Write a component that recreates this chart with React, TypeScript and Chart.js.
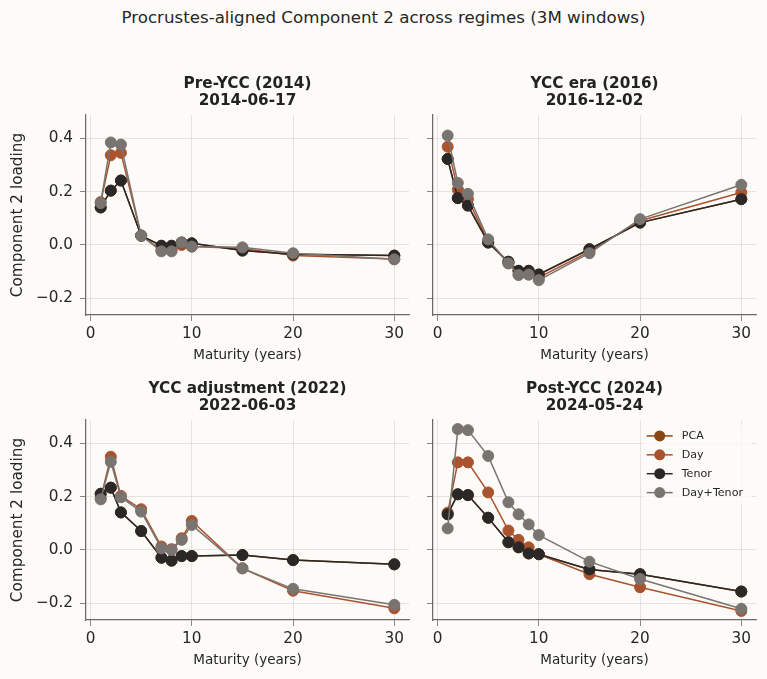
import React, { useEffect, useRef } from "react";
import { Chart, registerables } from "chart.js";

Chart.register(...registerables);

// ---------------- DATA ----------------
const MATURITIES = [1, 2, 3, 5, 7, 8, 9, 10, 15, 20, 30];
const X_TICKS = [0, 10, 20, 30];
const Y_TICKS = [-0.2, 0, 0.2, 0.4];
const SERIES_NAMES = ["PCA", "Day", "Tenor", "Day+Tenor"];

const SUPTITLE = "Procrustes-aligned Component 2 across regimes (3M windows)";
const X_LABEL = "Maturity (years)";
const Y_LABEL = "Component 2 loading";

const PRE_TITLE = ["Pre-YCC (2014)", "2014-06-17"];
const PRE_PCA = [0.141, 0.204, 0.242, 0.035, -0.003, -0.003, 0.009, 0.006, -0.021, -0.035, -0.04];
const PRE_DAY = [0.161, 0.337, 0.346, 0.035, -0.019, -0.019, 0.0, -0.006, -0.013, -0.04, -0.053];
const PRE_TENOR = [0.141, 0.204, 0.242, 0.035, -0.003, -0.003, 0.009, 0.006, -0.021, -0.035, -0.04];
const PRE_DAYTENOR = [0.157, 0.385, 0.377, 0.035, -0.024, -0.024, 0.009, -0.006, -0.009, -0.031, -0.054];

const YCC_TITLE = ["YCC era (2016)", "2016-12-02"];
const YCC_PCA = [0.323, 0.176, 0.148, 0.009, -0.063, -0.097, -0.097, -0.111, -0.016, 0.084, 0.172];
const YCC_DAY = [0.369, 0.208, 0.172, 0.013, -0.069, -0.111, -0.111, -0.122, -0.025, 0.091, 0.197];
const YCC_TENOR = [0.323, 0.176, 0.148, 0.009, -0.063, -0.097, -0.097, -0.111, -0.016, 0.084, 0.172];
const YCC_DAYTENOR = [0.411, 0.233, 0.192, 0.021, -0.069, -0.113, -0.111, -0.132, -0.031, 0.097, 0.226];

const ADJ_TITLE = ["YCC adjustment (2022)", "2022-06-03"];
const ADJ_PCA = [0.211, 0.234, 0.141, 0.071, -0.029, -0.04, -0.023, -0.023, -0.019, -0.038, -0.054];
const ADJ_DAY = [0.194, 0.35, 0.203, 0.153, 0.013, 0.003, 0.044, 0.109, -0.069, -0.153, -0.219];
const ADJ_TENOR = [0.211, 0.234, 0.141, 0.071, -0.029, -0.04, -0.023, -0.023, -0.019, -0.038, -0.054];
const ADJ_DAYTENOR = [0.19, 0.331, 0.198, 0.144, 0.006, 0.0, 0.038, 0.094, -0.069, -0.146, -0.206];

const POST_TITLE = ["Post-YCC (2024)", "2024-05-24"];
const POST_PCA = [0.134, 0.209, 0.206, 0.121, 0.029, 0.01, -0.013, -0.016, -0.073, -0.091, -0.156];
const POST_DAY = [0.14, 0.329, 0.329, 0.216, 0.073, 0.038, 0.01, -0.016, -0.091, -0.14, -0.229];
const POST_TENOR = [0.134, 0.209, 0.206, 0.121, 0.029, 0.01, -0.013, -0.016, -0.073, -0.091, -0.156];
const POST_DAYTENOR = [0.081, 0.454, 0.45, 0.353, 0.179, 0.134, 0.096, 0.056, -0.044, -0.109, -0.221];

// ---------------- STYLE ----------------
const FONT = "'DejaVu Sans', sans-serif";
const BG = "#fcfbf8";
const TEXT = "#262626";
const GRID = "#e0ddd8";
const SPINE = "#6b6a68";
const COLORS = ["#8b4513", "#a9532f", "#2a2827", "#7a7471"];
const X_MIN = -0.45;
const X_MAX = 31.45;
const Y_MIN = -0.263;
const Y_MAX = 0.488;

const fmtY = (v: number) => {
  const s = Math.abs(v).toFixed(1);
  return v < -1e-9 ? "\u2212" + s : s;
};

const innerLegend = {
  id: "innerLegend",
  afterDatasetsDraw(chart: any, _args: any, opts: any) {
    if (!opts || !opts.show) return;
    const { ctx, chartArea } = chart;
    const right = chartArea.right;
    const top = chartArea.top;
    ctx.save();
    ctx.fillStyle = "rgba(252,251,248,0.8)";
    ctx.beginPath();
    const bx = right - 113;
    const by = top + 5;
    const bw = 109;
    const bh = 79;
    (ctx as any).roundRect ? (ctx as any).roundRect(bx, by, bw, bh, 3) : ctx.rect(bx, by, bw, bh);
    ctx.fill();
    SERIES_NAMES.forEach((name, i) => {
      const y = top + 15.9 + i * 18.9;
      ctx.strokeStyle = COLORS[i];
      ctx.lineWidth = 1.5;
      ctx.beginPath();
      ctx.moveTo(right - 109.3, y);
      ctx.lineTo(right - 83.3, y);
      ctx.stroke();
      ctx.fillStyle = COLORS[i];
      ctx.beginPath();
      ctx.arc(right - 96.3, y, 5.5, 0, Math.PI * 2);
      ctx.fill();
      ctx.fillStyle = TEXT;
      ctx.font = `11.1px ${FONT}`;
      ctx.textAlign = "left";
      ctx.textBaseline = "middle";
      ctx.fillText(name, right - 74.3, y);
    });
    ctx.restore();
  },
};

type PanelProps = {
  left: number;
  top: number;
  width: number;
  height: number;
  axisWidth: number;
  title: string[];
  series: number[][];
  showYLabels: boolean;
  showLegend: boolean;
};

function Panel(p: PanelProps) {
  const ref = useRef<HTMLCanvasElement | null>(null);
  useEffect(() => {
    if (!ref.current) return;
    const chart = new Chart(ref.current, {
      type: "line",
      data: {
        datasets: p.series.map((vals, i) => ({
          label: SERIES_NAMES[i],
          data: MATURITIES.map((m, j) => ({ x: m, y: vals[j] })),
          borderColor: COLORS[i],
          backgroundColor: COLORS[i],
          pointBackgroundColor: COLORS[i],
          pointBorderColor: COLORS[i],
          pointRadius: 5.5,
          pointBorderWidth: 1,
          borderWidth: 1.5,
          tension: 0,
          order: 4 - i,
          clip: false as any,
          yAxisID: "y",
        })),
      },
      options: {
        animation: false,
        responsive: false,
        events: [],
        layout: { padding: 0 },
        plugins: {
          legend: { display: false },
          tooltip: { enabled: false },
          title: {
            display: true,
            text: p.title,
            color: "#222222",
            font: { family: FONT, size: 15.28, weight: "bold", lineHeight: 1.1 },
            padding: { top: 15.5, bottom: 5.9 },
          },
          innerLegend: { show: p.showLegend },
        } as any,
        scales: {
          x: {
            type: "linear",
            min: X_MIN,
            max: X_MAX,
            afterBuildTicks: (s: any) => {
              s.ticks = X_TICKS.map((v) => ({ value: v }));
            },
            afterFit: (s: any) => {
              s.height = 55;
            },
            grid: { color: GRID, lineWidth: 0.8, tickColor: SPINE, tickLength: 6, drawTicks: true },
            border: { display: true, color: SPINE, width: 1.25 },
            ticks: {
              color: TEXT,
              font: { family: FONT, size: 15.28 },
              padding: 3.5,
              maxRotation: 0,
              autoSkip: false,
            },
            title: {
              display: true,
              text: X_LABEL,
              color: TEXT,
              font: { family: FONT, size: 13.5, lineHeight: 1.2 },
              padding: { top: 0, bottom: 6.9 },
            },
          },
          y: {
            type: "linear",
            position: "left",
            min: Y_MIN,
            max: Y_MAX,
            afterBuildTicks: (s: any) => {
              s.ticks = Y_TICKS.map((v) => ({ value: v }));
            },
            afterFit: (s: any) => {
              s.width = p.axisWidth;
            },
            grid: { color: GRID, lineWidth: 0.8, tickColor: SPINE, tickLength: 6, drawTicks: true },
            border: { display: true, color: SPINE, width: 1.25 },
            ticks: {
              display: p.showYLabels,
              color: TEXT,
              font: { family: FONT, size: 15.28 },
              padding: 7,
              callback: (v: any) => fmtY(Number(v)),
            },
            title: {
              display: p.showYLabels,
              text: Y_LABEL,
              color: TEXT,
              font: { family: FONT, size: 15.28, lineHeight: 1.2 },
              padding: { top: 9, bottom: 0 },
            },
          },
          // empty right-hand spacer so the title centres over the plot area
          spacer: {
            type: "linear",
            position: "right",
            display: true,
            min: Y_MIN,
            max: Y_MAX,
            afterFit: (s: any) => {
              s.width = p.axisWidth;
            },
            grid: { display: false, drawTicks: false },
            border: { display: false },
            ticks: { display: false },
            title: { display: false },
          },
        },
      } as any,
      plugins: [innerLegend as any],
    });
    return () => chart.destroy();
  }, []);
  return (
    <canvas
      ref={ref}
      width={p.width}
      height={p.height}
      style={{ position: "absolute", left: p.left, top: p.top, width: p.width, height: p.height }}
    />
  );
}

export default function App() {
  return (
    <div
      style={{
        position: "fixed",
        left: 0,
        top: 0,
        width: 767,
        height: 679,
        background: BG,
        overflow: "hidden",
      }}
    >
      <div
        style={{
          position: "absolute",
          left: 0,
          top: 8,
          width: 767,
          textAlign: "center",
          fontFamily: FONT,
          fontSize: "16.67px",
          lineHeight: "20px",
          color: TEXT,
        }}
      >
        {SUPTITLE}
      </div>
      <Panel
        left={0}
        top={60}
        width={495}
        height={310}
        axisWidth={86}
        title={PRE_TITLE}
        series={[PRE_PCA, PRE_DAY, PRE_TENOR, PRE_DAYTENOR]}
        showYLabels={true}
        showLegend={false}
      />
      <Panel
        left={422}
        top={60}
        width={345}
        height={310}
        axisWidth={11}
        title={YCC_TITLE}
        series={[YCC_PCA, YCC_DAY, YCC_TENOR, YCC_DAYTENOR]}
        showYLabels={false}
        showLegend={false}
      />
      <Panel
        left={0}
        top={365}
        width={495}
        height={310}
        axisWidth={86}
        title={ADJ_TITLE}
        series={[ADJ_PCA, ADJ_DAY, ADJ_TENOR, ADJ_DAYTENOR]}
        showYLabels={true}
        showLegend={false}
      />
      <Panel
        left={422}
        top={365}
        width={345}
        height={310}
        axisWidth={11}
        title={POST_TITLE}
        series={[POST_PCA, POST_DAY, POST_TENOR, POST_DAYTENOR]}
        showYLabels={false}
        showLegend={true}
      />
    </div>
  );
}
